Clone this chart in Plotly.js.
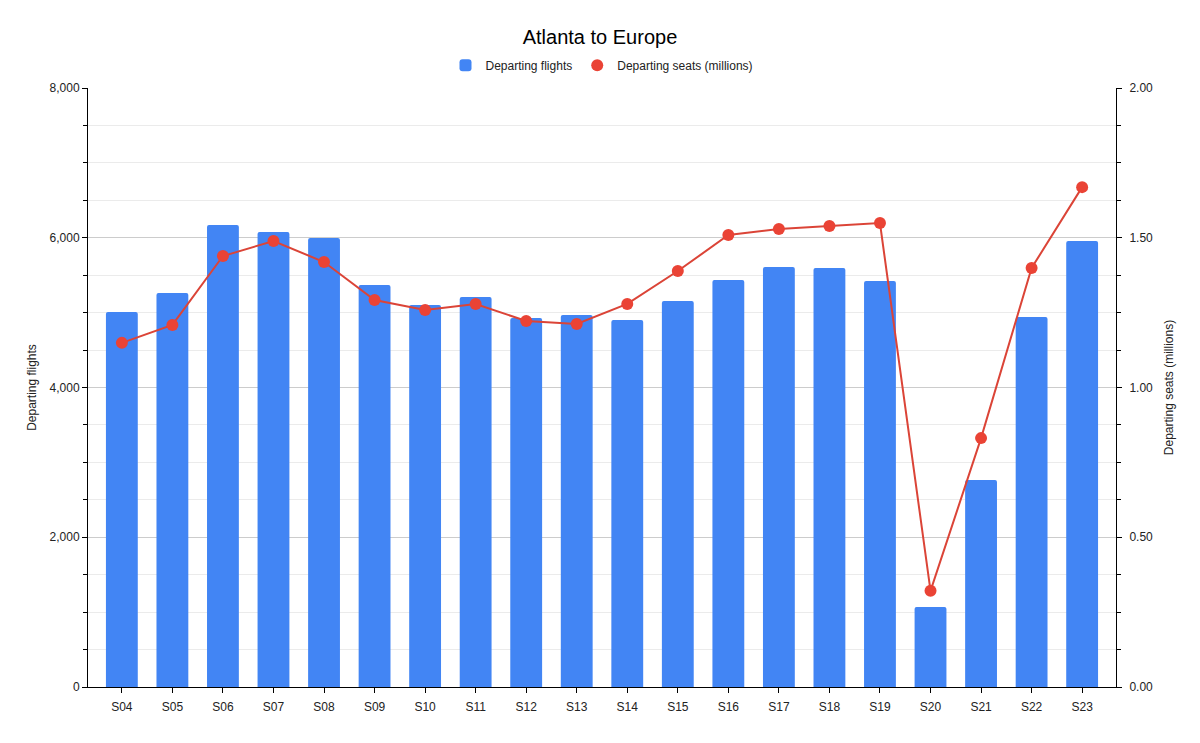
<!DOCTYPE html>
<html><head><meta charset="utf-8">
<script src="https://cdn.plot.ly/plotly-3.0.1.min.js"></script>
<style>html,body{margin:0;padding:0;background:#fff}#chart{width:1200px;height:743px}</style>
</head><body><div id="chart"></div>
<script>
const seasons = ["S04","S05","S06","S07","S08","S09","S10","S11","S12","S13","S14","S15","S16","S17","S18","S19","S20","S21","S22","S23"];
const departingFlights = [5010,5262,6170,6077,5997,5369,5102,5209,4928,4968,4901,5155,5436,5609,5596,5422,1068,2765,4941,5957];
const departingSeats = [1.149,1.209,1.439,1.489,1.419,1.292,1.259,1.279,1.222,1.212,1.279,1.389,1.509,1.529,1.539,1.549,0.321,0.831,1.399,1.669];
const leftTicks = [0,2000,4000,6000,8000];
const rightTicks = [0,0.5,1.0,1.5,2.0];

const font = "Liberation Sans, Arial, sans-serif";
const traces = [
  {type:"bar", name:"Departing flights", x:seasons, y:departingFlights,
   marker:{color:"#4285F4", cornerradius:2}, width:0.63},
  {type:"scatter", mode:"lines+markers", name:"Departing seats (millions)", x:seasons, y:departingSeats, yaxis:"y2",
   line:{color:"#DB4437", width:2}, marker:{color:"#EA4335", size:12}, showlegend:false},
  {type:"scatter", mode:"markers", name:"Departing seats (millions)", x:[null], y:[null], yaxis:"y2",
   marker:{color:"#EA4335", size:12}, showlegend:true}
];
const layout = {
  width:1200, height:743,
  margin:{l:88, r:84, t:88, b:56},
  paper_bgcolor:"#fff", plot_bgcolor:"#fff",
  font:{family:font, size:12, color:"#222"},
  title:{text:"Atlanta to Europe", x:0.5, xanchor:"center", y:0.950, yanchor:"middle", font:{family:font, size:20, color:"#000"}},
  showlegend:true,
  legend:{orientation:"h", x:0.5, xanchor:"center", y:1.038, yanchor:"middle", font:{size:12, color:"#222"}, itemwidth:30, traceorder:"normal"},
  xaxis:{type:"category", range:[-0.67,19.67], showline:true, linecolor:"#000", linewidth:1, ticks:"outside", ticklen:5, tickcolor:"#000",
         showgrid:false, tickfont:{size:12, color:"#222"}, zeroline:false, ticklabelstandoff:4},
  yaxis:{range:[0,8000], tickvals:leftTicks, ticktext:leftTicks.map(v=>v.toLocaleString("en-US")),
         showline:true, linecolor:"#000", ticks:"outside", ticklen:5, tickcolor:"#000",
         gridcolor:"#cccccc", zeroline:false, tickfont:{size:12, color:"#222"},
         minor:{dtick:500, showgrid:true, gridcolor:"#ebebeb", ticks:"outside", ticklen:4, tickcolor:"#000"},
         title:{text:"Departing flights", font:{size:12, color:"#222"}, standoff:10}},
  yaxis2:{range:[0,2], overlaying:"y", side:"right", tickvals:rightTicks, ticktext:rightTicks.map(v=>v.toFixed(2)),
          showline:true, linecolor:"#000", ticks:"outside", ticklen:5, tickcolor:"#000",
          showgrid:false, zeroline:false, tickfont:{size:12, color:"#222"}, ticklabelstandoff:5,
          minor:{dtick:0.125, ticks:"outside", ticklen:4, tickcolor:"#000", showgrid:false},
          title:{text:"Departing seats (millions)", font:{size:12, color:"#222"}, standoff:12}}
};
Plotly.newPlot("chart", traces, layout, {displayModeBar:false, staticPlot:true});
</script></body></html>
